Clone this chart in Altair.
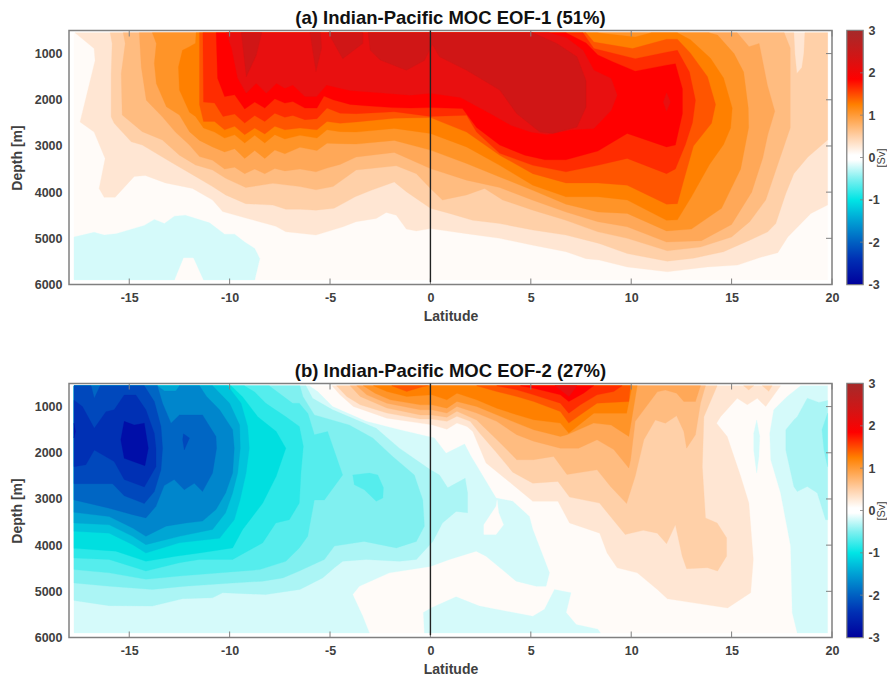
import altair as alt
import pandas as pd

# ---- level colours
C0 = "#FFFBF8"
NEG = ["#D5FAFA", "#ABF5F5", "#80F0F0", "#55EDED", "#2BE8E8", "#00DFE0", "#00C4DC", "#00A6D4",
       "#0086CC", "#0066C4", "#0048BC", "#0030B4", "#000EA8"]
POS = ["#FFE6D3", "#FFD0A8", "#FFBC80", "#FFA858", "#FF9428", "#FF8000", "#FF5500", "#FF2C00",
       "#FF0000", "#E81010", "#D01616"]
CBAR_VALUES = [-3, -2.4, -2, -1.5, -1, -0.5, -0.06, 0.06, 0.5, 1.25, 1.85, 2.4, 3]
CBAR_COLORS = ["#00009C", "#0030B4", "#0060C2", "#00A0D4", "#00E5E5", "#80F0F0", "#FFFFFF", "#FFFFFF",
               "#FFD0A8", "#FF8000", "#FF0000", "#D01616", "#A52A2A"]
LAT_TICKS = [-15, -10, -5, 0, 5, 10, 15, 20]
DEPTH_TICKS = [1000, 2000, 3000, 4000, 5000, 6000]
CBAR_TICKS = [-3, -2, -1, 0, 1, 2, 3]

BG = [(-17.75,550),(19.78,550),(19.78,5900),(-17.75,5900)]

# ---- panel (a): contour outlines (latitude, depth)
A_NEG = [(-17.75,4970),(-16.75,4870),(-16.25,4930),(-15.65,4900),(-14.25,4720),(-13.75,4590),(-13.25,4680),(-12.75,4520),(-12.2,4500),(-11,4665),(-10.25,4910),(-9.75,4910),(-9.25,5080),(-8.75,5220),(-8.5,5440),(-8.75,5900),(-11.3,5900),(-11.8,5420),(-12.3,5420),(-12.75,5900),(-17.75,5900)]
A1 = [(-17.7,550),(-16.75,890),(-16.7,1150),(-17.45,2480),(-16.75,2700),(-16.2,3270),(-16.5,3920),(-16.25,4110),(-15.7,4110),(-14.75,3660),(-14.2,3640),(-13.2,3800),(-11.85,3920),(-10.85,4170),(-10.35,4420),(-9.2,4560),(-7.7,4740),(-7.2,4860),(-6.5,4890),(-5.7,4930),(-4.35,4750),(-3.7,4640),(-2.7,4570),(-2.2,4440),(-1.7,4500),(-1.2,4800),(-0.7,4840),(0,4790),(1.8,4900),(3.45,5000),(5.1,5150),(6.75,5290),(7.75,5440),(8.4,5470),(9.8,5620),(11.8,5725),(13.8,5620),(15.3,5580),(16.45,5410),(17.3,5310),(17.8,4970),(18.95,4460),(19.78,4280),(19.78,550)]
A2 = [(-15.95,550),(-15.85,780),(-15.9,1430),(-15.9,2370),(-15.75,2510),(-14.9,2910),(-14.35,2980),(-12.85,3370),(-11.7,3660),(-10.85,3880),(-10.2,4060),(-9.2,4250),(-7.85,4280),(-7.2,4370),(-6.5,4370),(-5.7,4390),(-4.8,4350),(-4.2,4210),(-3.75,4100),(-2.95,3960),(-1.8,3780),(-1.2,3990),(0,4350),(0.95,4460),(2.1,4610),(3.45,4680),(5.1,4820),(6.75,4930),(8.4,5110),(9.8,5330),(11.8,5495),(13.1,5430),(14.6,5290),(15.9,5040),(16.8,4860),(17.2,4680),(17.7,4030),(18.1,3600),(18.8,3240),(19.78,2870),(19.78,550),(18.65,550),(18.6,1000),(18.5,1300),(18.25,1430),(18.15,1000),(18.1,550)]
A3 = [(-15.3,550),(-15.2,780),(-15.4,1430),(-15.35,2330),(-14.35,2690),(-13.35,2870),(-12.5,3200),(-11.7,3410),(-10.85,3520),(-10.2,3700),(-9.2,3900),(-7.85,3810),(-6.5,3880),(-5.7,3950),(-4.85,3880),(-3.7,3520),(-1.7,3430),(-0.7,3600),(0,3920),(0.6,4170),(1.8,4060),(2.7,3920),(3.6,4170),(5.1,4390),(6.75,4610),(8.34,4860),(9.8,5000),(11.8,5270),(13.45,5190),(15,4970),(15.9,4640),(16.7,4170),(17.3,3400),(17.92,2610),(17.92,880),(17.62,550)]
A4 = [(-14.5,550),(-14.4,1290),(-14.15,2010),(-13.35,2370),(-12.7,2700),(-12,2980),(-11.5,3230),(-10.85,3310),(-10.25,3500),(-9.75,3460),(-9.25,3600),(-8.75,3500),(-8.25,3600),(-7.75,3490),(-7.25,3540),(-6.5,3500),(-5.7,3560),(-5.15,3480),(-4.5,3400),(-3.7,3240),(-1.8,3140),(0,3490),(1.8,3740),(3.45,3900),(5.1,4175),(6.75,4430),(8.34,4640),(9.8,4750),(11.76,5080),(13.5,5050),(15,4700),(16,4000),(16.55,3260),(16.8,2760),(17.15,2250),(16.78,1680),(16.37,780),(15.87,850),(15.28,550)]
A5 = [(-13.85,550),(-13.65,780),(-13.75,1210),(-13.65,1650),(-13.15,2150),(-12.5,2330),(-12,2690),(-11.5,2880),(-10.85,3020),(-10.25,3130),(-9.75,3060),(-9.25,3270),(-8.75,3100),(-8.25,3270),(-7.75,3090),(-7.25,3170),(-6.5,3030),(-5.65,3100),(-5.15,2940),(-4.5,2950),(-3.7,2960),(-1.8,2880),(0,3090),(1.8,3380),(3.45,3670),(5.1,3960),(6.75,4260),(8.34,4430),(9.8,4460),(11.76,4840),(13,4800),(14.5,4350),(15.45,3500),(15.85,2600),(15.83,2180),(15.6,1400),(15.12,1000),(14.3,600),(13.87,550)]
A6 = [(-11.67,550),(-11.7,776),(-12,850),(-12.35,930),(-12.55,1290),(-12.5,1790),(-12,2270),(-11.7,2360),(-11.3,2610),(-10.75,2700),(-10.25,2830),(-9.75,2760),(-9.25,2935),(-8.75,2770),(-8.25,2935),(-7.75,2756),(-7.25,2850),(-6.5,2770),(-5.65,2830),(-5.15,2650),(-4.5,2690),(-3.7,2700),(-1.8,2620),(0,2730),(1.8,3020),(3.45,3420),(5.1,3850),(6.75,4100),(8.34,4100),(9.8,4170),(11.76,4610),(12.3,4600),(13,4100),(13.9,3400),(14.6,2970),(14.95,2610),(15.03,2180),(14.6,1530),(13.95,1100),(12.95,700),(12.3,550),(11,550),(10.2,640),(8.3,550)]
A7 = [(-11.5,550),(-11.5,2110),(-11.3,2470),(-10.75,2470),(-10.25,2650),(-9.75,2575),(-9.25,2756),(-8.75,2612),(-8.25,2740),(-7.75,2575),(-7.25,2650),(-6.5,2612),(-5.65,2650),(-5.15,2470),(-4.5,2510),(-3.7,2480),(-1.8,2400),(0,2385),(1.8,2700),(3.45,3200),(5.1,3600),(6.75,3800),(8.34,3800),(9.8,3850),(11.76,4260),(12.3,4250),(12.6,3770),(13.1,3000),(14,2510),(14.2,2100),(13.8,1500),(12.95,990),(12.3,690),(11.76,690),(10.07,890),(8.14,750),(7.75,550)]
A8 = [(-11.33,550),(-11.3,2050),(-10.75,2070),(-10.33,2360),(-9.75,2310),(-9.25,2505),(-8.75,2340),(-8.25,2470),(-7.75,2290),(-7.25,2380),(-6.85,2340),(-6.25,2430),(-5.65,2410),(-5.15,2180),(-4.5,2290),(-3.7,2300),(-1.8,2260),(0,2360),(1.8,2335),(2.3,2700),(3.45,3160),(5.1,3420),(6.75,3560),(8.34,3420),(9.8,3270),(11.76,3600),(12.2,3500),(12.7,2970),(13.05,2500),(13.2,2010),(12.9,1400),(12.3,930),(11.76,970),(10.2,1110),(8.14,890),(7.6,550)]
A9 = [(-10.67,550),(-10.6,1532),(-10.25,1930),(-9.75,1892),(-9.25,2200),(-8.75,2050),(-8.25,2180),(-7.75,1980),(-7.25,2072),(-6.85,2040),(-6.25,2180),(-5.65,2180),(-5.3,1920),(-4.85,2000),(-4,2100),(-3.2,2130),(-1.9,2170),(-1,2180),(0,2170),(1.6,2190),(2.3,2600),(3.45,2980),(4.7,3200),(5.7,3300),(6.75,3300),(8.34,3110),(9.8,2730),(11.76,3020),(12.2,2980),(12.55,2300),(12.55,1760),(12.2,1220),(11.76,1250),(10.2,1380),(9.1,1180),(8.34,1030),(7.75,770),(6.75,550)]
A10 = [(-10.17,550),(-9.9,880),(-9.6,1530),(-9.17,1860),(-8.67,1640),(-8.17,1860),(-7.67,1640),(-7.25,1750),(-6.85,1680),(-6.25,1930),(-5.67,1930),(-5.17,1680),(-4.5,1750),(-4,1800),(-2.5,1850),(-1,1900),(0,1860),(1.5,1950),(3,2300),(4,2550),(5,2700),(5.8,2750),(7,2650),(8.14,2620),(9,2230),(9.3,1900),(9,1540),(8.14,1360),(7.6,930),(6.75,650),(5.9,550)]
A10B = [(11.6,2050),(11.76,1850),(11.95,2050),(11.76,2250)]
A11A = [(-9.42,550),(-9.17,1500),(-8.67,1030),(-8.4,550)]
A11B = [(-6,550),(-5.7,1390),(-5.42,880),(-5.47,550)]
A11C = [(-5.1,550),(-4.37,1110),(-3.37,780),(-3.37,550)]
A11D = [(-3.1,550),(-3,930),(-2.5,1140),(-1.2,1360),(-0.3,1150),(0.1,800),(0.45,1070),(1.8,1360),(3.45,1790),(4.3,2300),(5.45,2700),(6.1,2730),(7.3,2590),(7.75,2160),(7.75,1580),(7.3,1070),(6.3,780),(5.1,550)]
PANEL_A = [(C0,BG),(NEG[0],A_NEG),(POS[0],A1),(POS[1],A2),(POS[2],A3),(POS[3],A4),(POS[4],A5),(POS[5],A6),(POS[6],A7),(POS[7],A8),(POS[8],A9),(POS[9],A10),(POS[9],A10B),(POS[10],A11A),(POS[10],A11B),(POS[10],A11C),(POS[10],A11D)]

# ---- panel (b)
B_N1 = [(-17.75,550),(-6.03,550),(-5.6,680),(-4.87,1000),(-3.2,1320),(-1.55,1500),(0,1660),(0.2,1680),(0.78,2010),(1.7,1810),(2.03,2080),(3.27,2980),(4.1,3050),(4.93,3380),(5.1,3660),(5.93,4600),(5.76,4890),(5.27,4890),(4.27,4780),(2.77,4240),(2.28,4130),(0.95,4310),(0,4460),(-2.04,4600),(-3.54,4890),(-3.87,5070),(-3.37,5540),(-3.04,5900),(-17.75,5900)]
B_N1B = [(-0.35,5460),(0.03,5360),(1.28,5120),(2.44,5320),(5.1,5540),(5.68,5390),(6.18,4960),(7.0,5030),(6.76,5460),(7.26,5720),(8.34,5820),(8.47,5900),(-0.3,5900)]
B_N1C = [(18.44,550),(17.77,780),(17.1,1070),(16.9,1580),(16.95,2150),(17.44,2870),(17.94,4020),(18.02,5460),(18.27,5900),(19.78,5900),(19.78,550)]
B_N1S = [(16.25,1290),(16.4,1650),(16.36,2080),(16.25,2440),(16.1,1940),(16.1,1580)]
B_HOLE = [(2.66,3560),(3.27,3160),(3.32,3020),(3.4,3300),(3.64,3560),(3.27,3770),(2.66,3770)]
B_N2 = [(-17.75,550),(-6.2,550),(-5.87,820),(-4.87,1070),(-2.7,1470),(-1.55,1900),(0,2370),(0.45,2480),(0.86,2760),(1.73,2550),(1.85,2870),(1.85,3300),(1.28,3270),(0.6,3520),(0.12,3920),(-0.7,4310),(-1.55,4350),(-3.2,4310),(-4.37,4350),(-4.78,4490),(-5.37,4710),(-6.5,4960),(-8.2,5070),(-10.35,5030),(-10.85,5140),(-12.35,5160),(-13.85,5320),(-16,5310),(-17.75,5200)]
B_N2R = [(18.77,818),(19.35,910),(19.78,870),(19.78,3450),(19.68,3450),(19.27,2870),(18.77,2730),(18.27,2840),(18.1,2730),(17.7,1940),(17.7,1500),(18.1,1290),(18.27,1220)]
B_N3 = [(-17.75,550),(-6.5,550),(-6.35,780),(-5.78,1180),(-4.04,1400),(-2.87,1680),(-1.88,2080),(-0.8,2480),(-0.38,3020),(-0.3,3590),(-0.7,3920),(-1.7,4060),(-3.3,3920),(-4.78,4020),(-5.28,4310),(-6.53,4560),(-7.35,4710),(-8.35,4780),(-9.85,4820),(-12.2,4890),(-13.85,4960),(-16,4890),(-17.75,4820)]
B_N3R = [(19.78,1140),(19.5,1500),(19.6,1940),(19.78,2300)]
B_N4 = [(-17.75,550),(-8.03,550),(-6.86,930),(-6.53,930),(-6.1,1150),(-5.78,1610),(-5.12,1540),(-4.37,2480),(-5.28,3020),(-5.78,3020),(-6.11,3810),(-6.53,4060),(-7.2,4350),(-8.5,4530),(-12.5,4670),(-14.17,4740),(-16,4600),(-17.75,4530)]
B_N4I = [(-3.87,2480),(-3.04,2440),(-2.62,2480),(-2.34,2760),(-2.37,2980),(-2.7,3050),(-3.29,2800),(-3.79,2690)]
B_N5 = [(-17.75,550),(-9.27,550),(-8.77,680),(-8.2,930),(-7.2,1220),(-6.53,1430),(-6.33,1860),(-6.45,2440),(-6.53,3090),(-7.03,3450),(-7.7,3520),(-8.35,3950),(-9.85,4310),(-11.5,4310),(-12.5,4380),(-14.17,4560),(-16,4310),(-17.75,4280)]
B_N6 = [(-17.75,550),(-9.93,550),(-9.35,790),(-8.6,1220),(-7.68,1540),(-7.2,1900),(-7.68,2510),(-8.35,3090),(-9.35,3660),(-9.85,4060),(-11.5,4170),(-12.67,4240),(-14.17,4350),(-15.67,4130),(-17.75,4070)]
B_N7 = [(-17.75,550),(-10.1,550),(-9.43,930),(-9.1,1430),(-9.02,1900),(-9.18,2440),(-9.48,3020),(-9.77,3450),(-10.5,3850),(-12.5,3950),(-14.17,4170),(-14.83,3990),(-16,3740),(-17.75,3700)]
B_N8 = [(-17.75,550),(-10.85,550),(-10.0,930),(-9.5,1400),(-9.47,1900),(-9.6,2440),(-9.85,2870),(-10.2,3300),(-10.85,3660),(-12.5,3810),(-14.17,3990),(-14.83,3810),(-16,3560),(-17.75,3520)]
B_N9 = [(-17.75,550),(-13.6,550),(-13.25,660),(-12.68,660),(-12.5,550),(-11.5,550),(-11.15,780),(-10.5,1070),(-9.85,1500),(-9.77,1900),(-9.85,2440),(-10.2,2870),(-10.68,3230),(-11.35,3480),(-12.18,3520),(-13.17,3590),(-14.17,3810),(-14.83,3630),(-16,3380),(-17.75,3290)]
B_N10 = [(-17.75,550),(-13.6,550),(-13.34,930),(-12.92,1360),(-12.5,1180),(-11.35,1180),(-10.68,1650),(-10.65,1900),(-10.85,2440),(-11.35,2840),(-11.76,2660),(-12.26,2800),(-12.76,2580),(-13.26,2710),(-13.67,3160),(-14.17,3410),(-14.83,3340),(-16,3200),(-17.75,3020)]
B_N11 = [(-17.75,550),(-16.9,550),(-16.74,820),(-16.45,550),(-14.25,550),(-13.75,890),(-13.42,1430),(-13.34,1900),(-13.42,2370),(-13.75,2840),(-14.25,3100),(-15.25,2930),(-15.83,2670),(-17.75,2670)]
B_N11L = [(-12.3,1590),(-12,1680),(-12.26,1940),(-12.34,1720)]
B_N12 = [(-17.75,860),(-17.33,1000),(-16.74,1470),(-16.16,1110),(-15.75,1070),(-15.25,750),(-14.67,750),(-14.17,1070),(-13.75,1580),(-13.67,1900),(-13.67,2300),(-14.25,2740),(-15.25,2580),(-15.75,2190),(-16.74,1940),(-17.16,2260),(-17.75,2300)]
B_N13 = [(-15.25,1320),(-14.75,1400),(-14.25,1360),(-14.05,1900),(-14.22,2280),(-15.25,2120),(-15.42,1720)]
B_N13L = [(-17.75,1360),(-17.68,1540),(-17.75,1680)]
B_P1 = [(-4.9,550),(-4.5,746),(-3.84,998),(-2.17,1250),(-0.51,1358),(0.07,1394),(0.82,1490),(1.32,1358),(1.82,1430),(2.11,1540),(2.77,2220),(4.1,2690),(5.1,3050),(6.35,3050),(6.93,3520),(8.43,3740),(8.8,4170),(9.3,4490),(10.3,4600),(11.3,4960),(11.8,5160),(13.1,5250),(14.8,5360),(15.95,5030),(16.08,4310),(15.86,3090),(15.45,2510),(14.78,1650),(14.25,1360),(14.45,1220),(15.28,820),(15.78,960),(16.28,820),(16.7,1000),(17.44,550)]
B_P2 = [(-4.67,550),(-4.17,780),(-3.5,960),(-2.17,1140),(-0.51,1270),(0.07,1270),(0.82,1320),(1.32,1210),(1.98,1320),(2.5,1600),(3.3,2000),(4.1,2420),(5.1,2660),(6.35,2620),(6.93,2960),(8.42,3090),(9.7,3770),(10.6,3680),(11.3,3740),(11.76,3970),(12.2,3560),(12.54,4240),(12.76,4510),(13.8,4490),(14.3,4560),(14.75,4240),(14.75,3840),(14.28,3520),(13.7,3410),(13.54,2300),(13.62,1220),(14.28,550)]
B_P2A = [(15.6,550),(16.1,550),(15.85,640)]
B_P2B = [(16.53,550),(17.02,550),(16.85,670)]
B_P3 = [(-4,550),(-3.5,780),(-2.17,1030),(-0.5,1180),(0.07,1180),(0.82,1230),(1.32,1100),(2.3,1290),(3.48,1790),(4.3,2150),(5.14,2150),(6.14,2080),(6.8,2470),(8.3,2370),(8.97,2730),(9.77,3100),(10.2,2510),(10.63,1720),(11.2,1290),(11.7,1360),(12.26,1200),(12.62,1540),(12.76,1900),(13.2,1610),(13.45,930),(13.7,550)]
B_P4 = [(-3.67,550),(-3.17,746),(-2.17,926),(-0.51,1070),(0.07,1070),(0.82,1140),(1.32,998),(2.3,1140),(3.3,1320),(4.3,1610),(5.14,1750),(6.47,1900),(7.38,1900),(8.3,1720),(9.13,1930),(9.88,2330),(9.97,2150),(10.2,1320),(11.3,680),(11.7,640),(12.26,710),(12.62,890),(13.2,890),(13.45,550)]
B_P5 = [(-3.34,550),(-2.76,710),(-2.0,854),(-0.51,962),(0.07,962),(0.82,1034),(1.32,890),(2.3,998),(3.3,1178),(4.3,1358),(5.14,1502),(6.47,1646),(6.8,1610),(8.13,1358),(9.0,1400),(9.88,1646),(10.3,550)]
B_P6 = [(-2.84,550),(-2.17,674),(-1.18,782),(0.07,746),(0.82,854),(1.32,710),(2.3,854),(3.3,1034),(4.3,1178),(5.14,1286),(6.47,1358),(6.89,1574),(8.14,1142),(9.77,1142),(10.05,550)]
B_P7A = [(-1.93,550),(-1.18,674),(-0.35,566),(-0.1,550)]
B_P7B = [(2.3,550),(3.3,674),(4.3,782),(5.14,890),(6.47,1106),(6.89,1358),(7.47,1178),(8.3,926),(9.88,890),(9.96,550)]
B_P8 = [(3.3,550),(4.3,638),(5.14,746),(6.47,926),(6.89,1142),(7.47,962),(8.3,746),(9.13,674),(9.55,550)]
B_P9 = [(4.48,550),(5.14,602),(6.47,746),(6.89,890),(7.63,710),(8.13,550)]
B_P10 = [(6.2,550),(6.9,780),(7.3,550)]
PANEL_B = [(C0,BG),(NEG[0],B_N1),(NEG[0],B_N1B),(NEG[0],B_N1C),(NEG[0],B_N1S),(C0,B_HOLE),(NEG[1],B_N2),(NEG[1],B_N2R),(NEG[2],B_N3),(NEG[2],B_N3R),(NEG[3],B_N4),(NEG[3],B_N4I),(NEG[4],B_N5),(NEG[5],B_N6),(NEG[6],B_N7),(NEG[7],B_N8),(NEG[8],B_N9),(NEG[9],B_N10),(NEG[10],B_N11),(NEG[10],B_N11L),(NEG[11],B_N12),(NEG[12],B_N13),(NEG[12],B_N13L),(POS[0],B_P1),(POS[1],B_P2),(POS[1],B_P2A),(POS[1],B_P2B),(POS[2],B_P3),(POS[3],B_P4),(POS[4],B_P5),(POS[5],B_P6),(POS[6],B_P7A),(POS[6],B_P7B),(POS[7],B_P8),(POS[8],B_P9),(POS[9],B_P10)]

FONT = "Liberation Sans"
W, H = 763, 254
xs = alt.Scale(domain=[-18, 20], nice=False, zero=False)
ys = alt.Scale(domain=[500, 6000], reverse=True, nice=False, zero=False)
GREY = "#808080"
LBL = "#404040"
PLAIN = "'' + datum.value"
XAXIS = alt.Axis(values=LAT_TICKS, title="Latitude", grid=False, ticks=False, domain=False, labelExpr=PLAIN,
                 labelPadding=7, titlePadding=5, labelFlush=False, labelOverlap=False)
YAXIS = alt.Axis(values=DEPTH_TICKS, title="Depth [m]", grid=False, ticks=False, domain=False, labelExpr=PLAIN,
                 labelPadding=7, titlePadding=10, labelOverlap=False)


def polygon(color, pts):
    df = pd.DataFrame(pts + pts[:1], columns=["lat", "depth"]).reset_index()
    return alt.Chart(df).mark_line(fill=color, stroke=color, strokeWidth=0.3, interpolate="linear").encode(
        x=alt.X("lat:Q", scale=xs, axis=XAXIS),
        y=alt.Y("depth:Q", scale=ys, axis=YAXIS),
        order="index:Q",
    )


def panel(polys, title):
    layers = [polygon(c, p) for c, p in polys]
    lat_df = pd.DataFrame({"lat": LAT_TICKS})
    dep_df = pd.DataFrame({"depth": DEPTH_TICKS})
    layers.append(alt.Chart(lat_df).mark_rule(color=GREY, strokeWidth=1).encode(
        x=alt.X("lat:Q", scale=xs, axis=XAXIS), y=alt.value(0), y2=alt.value(6)))
    layers.append(alt.Chart(lat_df).mark_rule(color=GREY, strokeWidth=1).encode(
        x=alt.X("lat:Q", scale=xs, axis=XAXIS), y=alt.value(H - 6), y2=alt.value(H)))
    layers.append(alt.Chart(dep_df).mark_rule(color=GREY, strokeWidth=1).encode(
        y=alt.Y("depth:Q", scale=ys, axis=YAXIS), x=alt.value(W - 6), x2=alt.value(W)))
    zero = pd.DataFrame({"lat": [0], "d0": [500], "d1": [5950]})
    layers.append(alt.Chart(zero).mark_rule(color="#222222", strokeWidth=1.4).encode(
        x=alt.X("lat:Q", scale=xs, axis=XAXIS),
        y=alt.Y("d0:Q", scale=ys, axis=YAXIS),
        y2="d1:Q"))
    return alt.layer(*layers).properties(width=W, height=H, title=title)


def colorbar():
    stops = [alt.GradientStop(offset=(v + 3) / 6, color=c) for v, c in zip(CBAR_VALUES, CBAR_COLORS)]
    grad = alt.LinearGradient(gradient="linear", stops=stops, x1=0, x2=0, y1=1, y2=0)
    cs = alt.Scale(domain=[-3, 3], nice=False, zero=False)
    caxis = alt.Axis(orient="right", values=CBAR_TICKS, title="[Sv]", grid=False, ticks=False, domain=False, labelExpr=PLAIN,
                     labelPadding=5, titlePadding=7, titleAngle=270, titleFontSize=11,
                     titleFontWeight="normal", labelFlush=False, labelOverlap=False)
    rect = alt.Chart(pd.DataFrame({"v0": [-3], "v1": [3]})).mark_rect(color=grad, stroke=GREY, strokeWidth=0.8).encode(
        y=alt.Y("v0:Q", scale=cs, axis=caxis),
        y2="v1:Q")
    t = alt.Chart(pd.DataFrame({"v": CBAR_TICKS})).mark_rule(color=GREY, strokeWidth=0.8).encode(
        y=alt.Y("v:Q", scale=cs, axis=caxis), x=alt.value(13), x2=alt.value(16))
    return alt.layer(rect, t).properties(width=16, height=H)


def row(polys, title):
    return alt.hconcat(panel(polys, title), colorbar(), spacing=5)


chart = alt.vconcat(
    row(PANEL_A, "(a) Indian-Pacific MOC EOF-1 (51%)"),
    row(PANEL_B, "(b) Indian-Pacific MOC EOF-2 (27%)"),
    spacing=37,
).properties(
    autosize=alt.AutoSizeParams(type="none", contains="content"),
    padding={"left": 61, "top": 22.5, "right": 818, "bottom": 645},
    background="white",
).configure_view(stroke=GREY, strokeWidth=1.5
).configure_axis(labelFont=FONT, titleFont=FONT, labelFontWeight="bold", titleFontWeight="bold", labelFontSize=12.5,
                 titleFontSize=14, labelColor=LBL, titleColor=LBL
).configure_title(font=FONT, fontSize=18.5, fontWeight="bold", color="#111111", anchor="middle", offset=2)

chart.save("out.html", embed_options={"renderer": "svg", "actions": False})
